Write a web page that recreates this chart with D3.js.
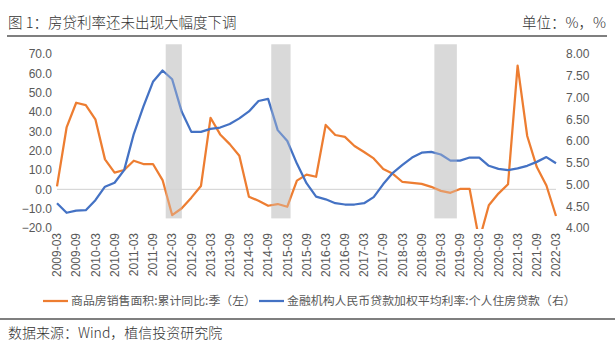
<!DOCTYPE html>
<html>
<head>
<meta charset="utf-8">
<script src="https://cdn.jsdelivr.net/npm/d3@7"></script>
<style>
  body { margin: 0; background: #fff; }
  svg { display: block; }
</style>
</head>
<body>
<div class="chart"></div>
<script>
// quarterly categories
var quarters = [
  "2009-03","2009-06","2009-09","2009-12","2010-03","2010-06","2010-09","2010-12",
  "2011-03","2011-06","2011-09","2011-12","2012-03","2012-06","2012-09","2012-12",
  "2013-03","2013-06","2013-09","2013-12","2014-03","2014-06","2014-09","2014-12",
  "2015-03","2015-06","2015-09","2015-12","2016-03","2016-06","2016-09","2016-12",
  "2017-03","2017-06","2017-09","2017-12","2018-03","2018-06","2018-09","2018-12",
  "2019-03","2019-06","2019-09","2019-12","2020-03","2020-06","2020-09","2020-12",
  "2021-03","2021-06","2021-09","2021-12","2022-03"
];

// 商品房销售面积:累计同比:季 (left, %)
var salesArea = [
  1.5, 32.0, 44.8, 43.6, 36.2, 15.5, 8.6, 10.0,
  14.8, 13.1, 13.1, 4.8, -13.3, -9.8, -4.3, 1.7,
  37.0, 28.4, 23.4, 17.4, -3.8, -5.9, -8.5, -7.6,
  -9.0, 4.5, 7.6, 6.5, 33.3, 28.1, 27.1, 22.4,
  19.3, 16.0, 10.5, 8.0, 3.8, 3.4, 2.8, 1.3,
  -0.8, -1.8, 0.2, 0.2, -26.3, -8.2, -2.2, 2.6,
  64.0, 27.6, 11.5, 2.0, -13.8
];

// 金融机构人民币贷款加权平均利率:个人住房贷款 (right, %)
var mortgageRate = [
  4.57, 4.35, 4.40, 4.41, 4.64, 4.95, 5.04, 5.33,
  6.16, 6.79, 7.36, 7.62, 7.42, 6.67, 6.21, 6.21,
  6.28, 6.31, 6.39, 6.52, 6.68, 6.92, 6.97, 6.25,
  6.00, 5.48, 5.03, 4.72, 4.66, 4.57, 4.54, 4.54,
  4.57, 4.71, 5.01, 5.27, 5.45, 5.62, 5.73, 5.75,
  5.69, 5.55, 5.55, 5.62, 5.62, 5.43, 5.36, 5.33,
  5.37, 5.43, 5.52, 5.63, 5.49
];

// shaded periods (start / end month)
var shadeStart = ["2012-01", "2014-10", "2019-01"];
var shadeEnd   = ["2012-06", "2015-04", "2019-08"];

var leftTicks  = [-20, -10, 0, 10, 20, 30, 40, 50, 60, 70];
var rightTicks = [4, 4.5, 5, 5.5, 6, 6.5, 7, 7.5, 8];

var W = 615, H = 352;
var plot = { left: 57, right: 556, top: 54, bottom: 228 };

var svg = d3.select(".chart").append("svg")
    .attr("width", W)
    .attr("height", H)
    .style("font-family", "'Noto Sans CJK SC', 'Noto Sans', sans-serif");

// scales
var x = d3.scaleLinear()
    .domain([0, quarters.length - 1])
    .range([plot.left, plot.right]);

var yL = d3.scaleLinear().domain([-20, 70]).range([plot.bottom, plot.top]);
var yR = d3.scaleLinear().domain([4, 8]).range([plot.bottom, plot.top]);

// month string -> quarter index
function monthIdx(s) {
  var p = s.split("-");
  return ((+p[0] - 2009) * 12 + (+p[1] - 3)) / 3;
}

// title
svg.append("text")
    .attr("x", 8).attr("y", 28)
    .attr("font-size", 14.5)
    .attr("font-weight", 300)
    .attr("fill", "#333")
    .text("图 1：房贷利率还未出现大幅度下调");

svg.append("text")
    .attr("x", 606).attr("y", 28)
    .attr("text-anchor", "end")
    .attr("font-size", 14.5)
    .attr("font-weight", 300)
    .attr("fill", "#333")
    .text("单位：%，%");

svg.append("line")
    .attr("x1", 7).attr("x2", 607)
    .attr("y1", 36).attr("y2", 36)
    .attr("stroke", "#000").attr("stroke-width", 1.2);

// shaded bands (under the lines)
var shades = shadeStart.map(function (s, i) { return { s: s, e: shadeEnd[i] }; });

svg.append("g").selectAll("rect")
    .data(shades)
    .enter().append("rect")
    .attr("x", function (d) { return x(monthIdx(d.s)); })
    .attr("width", function (d) { return x(monthIdx(d.e)) - x(monthIdx(d.s)); })
    .attr("y", yL(75))
    .attr("height", yL(-15) - yL(75))
    .attr("fill", "#d9d9d9");

// zero line
svg.append("line")
    .attr("x1", plot.left).attr("x2", plot.right)
    .attr("y1", yL(0)).attr("y2", yL(0))
    .attr("stroke", "#d0d0d0").attr("stroke-width", 1);

// clip
svg.append("clipPath").attr("id", "clip")
  .append("rect")
    .attr("x", 0).attr("y", plot.top - 12)
    .attr("width", W).attr("height", plot.bottom - plot.top + 13);

var lineL = d3.line()
    .x(function (d, i) { return x(i); })
    .y(function (d) { return yL(d); });

var lineR = d3.line()
    .x(function (d, i) { return x(i); })
    .y(function (d) { return yR(d); });

svg.append("path")
    .datum(salesArea)
    .attr("clip-path", "url(#clip)")
    .attr("d", lineL)
    .attr("fill", "none")
    .attr("stroke", "#ED7D31")
    .attr("stroke-width", 2.25)
    .attr("stroke-linejoin", "round");

svg.append("path")
    .datum(mortgageRate)
    .attr("d", lineR)
    .attr("fill", "none")
    .attr("stroke", "#4472C4")
    .attr("stroke-width", 2.25)
    .attr("stroke-linejoin", "round");

// light overlay of the shading so lines look paler inside
svg.append("g").selectAll("rect")
    .data(shades)
    .enter().append("rect")
    .attr("x", function (d) { return x(monthIdx(d.s)); })
    .attr("width", function (d) { return x(monthIdx(d.e)) - x(monthIdx(d.s)); })
    .attr("y", yL(75))
    .attr("height", yL(-15) - yL(75))
    .attr("fill", "#d9d9d9")
    .attr("opacity", 0.3);

// left axis
var axL = svg.append("g")
    .attr("transform", "translate(" + (plot.left - 5) + ",0)")
    .call(d3.axisLeft(yL).tickValues(leftTicks).tickSize(0).tickPadding(0)
      .tickFormat(d3.format(".1f")));
axL.select(".domain").remove();
axL.selectAll("text").attr("font-size", 12).attr("fill", "#595959")
    .style("font-family", "'Liberation Sans', Arial, sans-serif");

// right axis
var axR = svg.append("g")
    .attr("transform", "translate(" + (plot.right + 10) + ",0)")
    .call(d3.axisRight(yR).tickValues(rightTicks).tickSize(0).tickPadding(0)
      .tickFormat(d3.format(".2f")));
axR.select(".domain").remove();
axR.selectAll("text").attr("font-size", 12).attr("fill", "#595959")
    .style("font-family", "'Liberation Sans', Arial, sans-serif");

// x labels, every other quarter, rotated
svg.append("g").selectAll("text")
    .data(quarters.filter(function (d, i) { return i % 2 === 0; }))
    .enter().append("text")
    .attr("transform", function (d) {
      return "translate(" + x(quarters.indexOf(d)) + "," + (plot.bottom + 5) + ")rotate(-90)";
    })
    .attr("text-anchor", "end")
    .attr("dy", "0.35em")
    .attr("font-size", 12)
    .attr("fill", "#595959")
    .style("font-family", "'Liberation Sans', Arial, sans-serif")
    .text(function (d) { return d; });

// legend
var legend = [
  { name: "商品房销售面积:累计同比:季（左）", color: "#ED7D31", x: 43 },
  { name: "金融机构人民币贷款加权平均利率:个人住房贷款（右）", color: "#4472C4", x: 259 }
];
var lg = svg.append("g").selectAll("g")
    .data(legend)
    .enter().append("g")
    .attr("transform", function (d) { return "translate(" + d.x + ",301)"; });
lg.append("line")
    .attr("x1", 0).attr("x2", 25)
    .attr("stroke", function (d) { return d.color; })
    .attr("stroke-width", 2.25);
lg.append("text")
    .attr("x", 28).attr("dy", "0.35em")
    .attr("font-size", 11.9)
    .attr("fill", "#595959")
    .text(function (d) { return d.name; });

// footer
svg.append("line")
    .attr("x1", 0).attr("x2", 615)
    .attr("y1", 319).attr("y2", 319)
    .attr("stroke", "#000").attr("stroke-width", 1.2);

svg.append("text")
    .attr("x", 8).attr("y", 338)
    .attr("font-size", 14)
    .attr("font-weight", 300)
    .attr("fill", "#333")
    .text("数据来源：Wind，植信投资研究院");
</script>
</body>
</html>
